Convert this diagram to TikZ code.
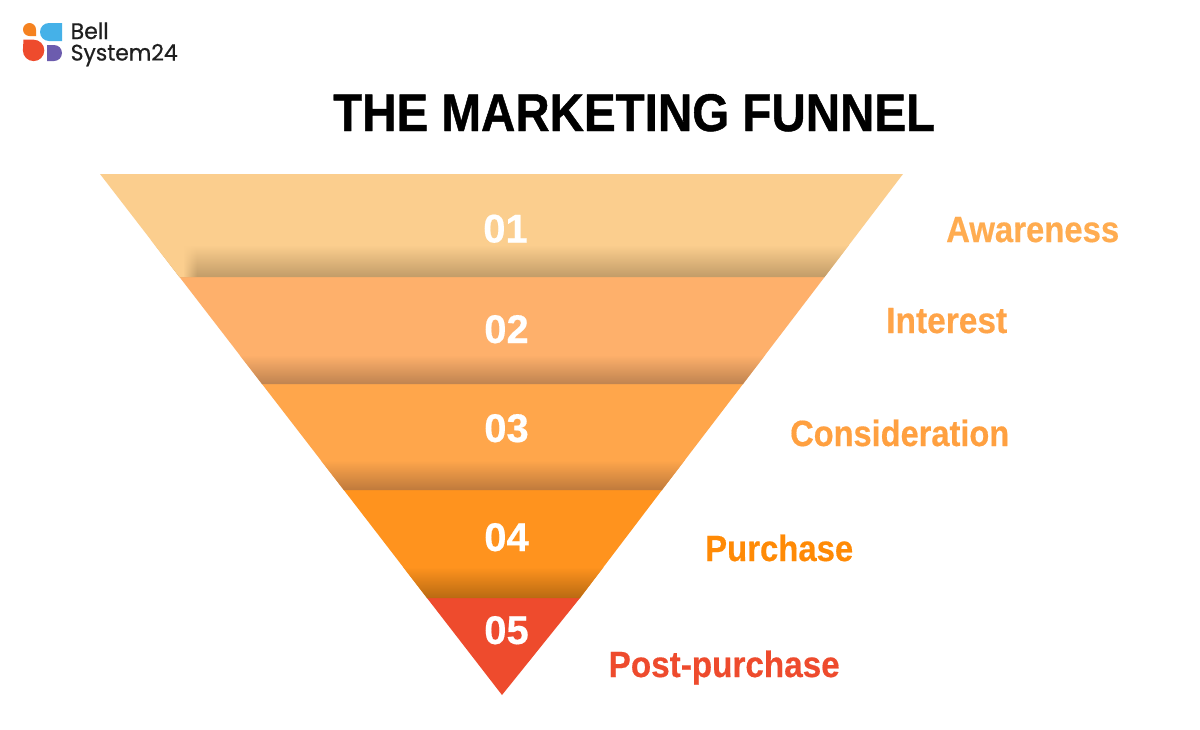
\documentclass[tikz,border=0pt]{standalone}
\usepackage{fontspec}
\usepackage{graphicx}
\setmainfont{Liberation Sans}[BoldFeatures={FakeBold=0.45}]
\newfontfamily\logofont{Poppins}[FakeBold=0.6]
\newfontfamily\titlefont{Liberation Sans Bold}[FakeBold=0.9]
\usetikzlibrary{fadings}
\tikzfading[name=sidefadeR, left color=transparent!0, right color=transparent!100]
\definecolor{bandA}{HTML}{FBCE8E}
\definecolor{bandB}{HTML}{FEB06B}
\definecolor{bandC}{HTML}{FFA64B}
\definecolor{bandD}{HTML}{FF931E}
\definecolor{bandE}{HTML}{EE4B2D}
\definecolor{shadeA}{HTML}{C29C68}
\definecolor{shadeB}{HTML}{BF8350}
\definecolor{shadeC}{HTML}{BF7A3C}
\definecolor{shadeD}{HTML}{B96A12}
\definecolor{labA}{HTML}{FFAC50}
\definecolor{labB}{HTML}{FFA448}
\definecolor{labC}{HTML}{FFA040}
\definecolor{labD}{HTML}{FF8A05}
\definecolor{labE}{HTML}{EE4B2D}
\definecolor{logoO}{HTML}{F58220}
\definecolor{logoB}{HTML}{45B1E8}
\definecolor{logoR}{HTML}{EE4B2D}
\definecolor{logoP}{HTML}{6C5CAE}
\newcommand{\fitw}[2]{\resizebox{#1pt}{\height}{#2}}
\tikzset{
  num/.style={text=white,font=\bfseries\fontsize{40}{40}\selectfont,inner sep=0pt,anchor=base},
  lab/.style={font=\bfseries\fontsize{36.5}{36.5}\selectfont,inner sep=0pt,anchor=base west},
  logotext/.style={inner sep=0pt,anchor=base west,font=\logofont\fontsize{22.5}{22.5}\selectfont,text=black!88},
}
\begin{document}
\begin{tikzpicture}[x=1pt,y=-1pt]
\useasboundingbox (0,0) rectangle (1200,729);
\fill[white] (0,0) rectangle (1200,729);
% logo
\fill[logoO] (29.5,23) arc[start angle=-90,end angle=-270,radius=6.5] -- (36,36) -- (36,29.5) arc[start angle=0,end angle=-90,radius=6.5] -- cycle;
\fill[logoB] (49,41) arc[start angle=90,end angle=270,radius=9] -- (62,23) -- (62,41) -- cycle;
\fill[logoR] (23.5,39.7) -- (33.6,39.7) arc[start angle=-90,end angle=180,radius=10.7] -- cycle;
\fill[logoP] (47,45) -- (54,45) arc[start angle=-90,end angle=90,radius=8] -- (47,61) -- cycle;
\node[logotext] (logoa) at (70.5,39) {\fitw{38}{Bell}};
\node[logotext] (logob) at (70.5,60.5) {\fitw{107}{System24}};
% title
\node[inner sep=0pt,anchor=base west,font=\titlefont\fontsize{53}{53}\selectfont] (title) at (333,131) {\fitw{602}{THE MARKETING FUNNEL}};
% funnel
\fill[bandA] (100,174) -- (903,174) -- (824.6,277) -- (179.5,277) -- cycle;
\fill[bandB] (179.5,277) -- (824.6,277) -- (743,384) -- (262,384) -- cycle;
\fill[bandC] (262,384) -- (743,384) -- (662,490) -- (343.8,490) -- cycle;
\fill[bandD] (343.8,490) -- (662,490) -- (580,598) -- (427,598) -- cycle;
\fill[bandE] (427,598) -- (580,598) -- (502,695) -- cycle;
% shadows
\begin{scope}
\clip (100,174) -- (903,174) -- (824.6,277) -- (179.5,277) -- cycle;
\shade[top color=bandA,bottom color=shadeA] (150,245) rectangle (860,277);
\fill[bandA] (150,240) rectangle (183,278);
\fill[bandA,path fading=sidefadeR] (183,240) rectangle (197,278);
\end{scope}
\begin{scope}
\clip (179.5,277) -- (824.6,277) -- (743,384) -- (262,384) -- cycle;
\shade[top color=bandB,bottom color=shadeB] (230,355) rectangle (780,384);
\end{scope}
\begin{scope}
\clip (262,384) -- (743,384) -- (662,490) -- (343.8,490) -- cycle;
\shade[top color=bandC,bottom color=shadeC] (320,460) rectangle (690,490);
\end{scope}
\begin{scope}
\clip (343.8,490) -- (662,490) -- (580,598) -- (427,598) -- cycle;
\shade[top color=bandD,bottom color=shadeD] (400,567) rectangle (610,598);
\end{scope}
% numbers
\node[num] (n1) at (505.5,242.5) {01};
\node[num] (n2) at (506.5,343) {02};
\node[num] (n3) at (506.5,442) {03};
\node[num] (n4) at (506.5,551) {04};
\node[num] (n5) at (506.5,644) {05};
% labels
\node[lab,text=labA] (l1) at (946,242) {\fitw{173}{Awareness}};
\node[lab,text=labB] (l2) at (886,333) {\fitw{121}{Interest}};
\node[lab,text=labC] (l3) at (790,446) {\fitw{219}{Consideration}};
\node[lab,text=labD] (l4) at (705,561) {\fitw{148}{Purchase}};
\node[lab,text=labE] (l5) at (608.5,677) {\fitw{231}{Post-purchase}};
\end{tikzpicture}
\end{document}
